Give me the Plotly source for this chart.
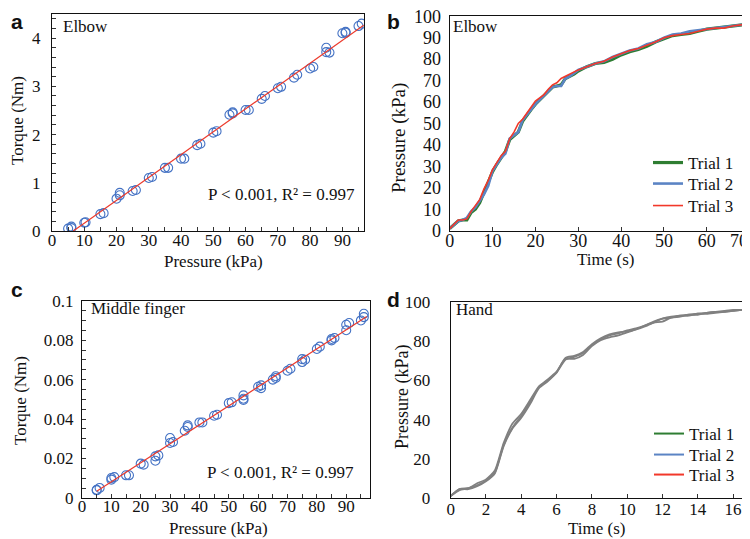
import numpy as np
import plotly.graph_objects as go

W, H = 750, 539

# ---------------- data ----------------
# Panel a: Elbow torque vs pressure
a_pressure = [5, 6, 6, 10, 10.4, 15, 16, 20, 21, 21, 25, 26, 30, 31, 35, 36, 40, 41, 45, 46,
              50, 51, 55, 56, 56, 60, 61, 65, 66, 70, 71, 75, 76, 80, 81, 85, 85, 86, 90, 91, 91, 95, 96]
a_torque = [0.05, 0.09, 0.06, 0.17, 0.18, 0.35, 0.37, 0.67, 0.79, 0.74, 0.83, 0.85, 1.10, 1.12, 1.31, 1.31,
            1.50, 1.50, 1.78, 1.81, 2.04, 2.07, 2.41, 2.46, 2.44, 2.51, 2.51, 2.74, 2.80, 2.96, 2.99, 3.18,
            3.24, 3.37, 3.40, 3.80, 3.71, 3.70, 4.10, 4.13, 4.11, 4.25, 4.30]

# Panel c: Middle finger torque vs pressure
c_pressure = [5, 6, 5, 10, 11, 10, 15, 16, 20, 21, 25, 25, 26, 30, 30, 31, 35, 36, 36, 40, 41, 45, 46,
              50, 51, 55, 55, 55, 60, 61, 61, 65, 66, 66, 70, 71, 75, 75, 76, 80, 81, 85, 85, 86,
              90, 90, 91, 95, 96, 96]
c_torque = [0.0042, 0.0051, 0.0039, 0.0101, 0.0106, 0.0093, 0.0115, 0.0115, 0.0174, 0.0169, 0.0189,
            0.0211, 0.0216, 0.0304, 0.0279, 0.0284, 0.0341, 0.0368, 0.0360, 0.0383, 0.0383, 0.0417,
            0.0422, 0.0481, 0.0485, 0.0520, 0.0503, 0.0497, 0.0564, 0.0571, 0.0557, 0.0600, 0.0617,
            0.0608, 0.0645, 0.0655, 0.0704, 0.0689, 0.0701, 0.0755, 0.0767, 0.0806, 0.0799, 0.0811,
            0.0878, 0.0850, 0.0887, 0.0900, 0.0934, 0.0917]

# Panel b: Elbow pressure vs time (3 trials)
b_time = list(range(0, 31)) + list(range(32, 71, 2))
b_trial1 = [1, 3, 4.5, 5, 5, 8.5, 10, 13, 18, 22, 27.5, 31, 34, 37, 42.5, 44.5, 46, 51, 54, 56.5,
            59, 61, 63, 65, 67, 67.5, 68, 71, 72, 73, 74.5,
            76.5, 78, 78.5, 80, 82, 83.5, 84.5, 86, 88, 89.5, 91, 91.5, 92, 93, 94, 94.5, 95, 95.5, 96, 96.5]
b_trial2 = [1, 3, 4.5, 5, 6, 9, 11, 14, 17, 21, 28, 31, 34, 36, 43, 44.5, 46, 51.5, 54, 57,
            59, 61, 63, 65, 67, 67.5, 67.5, 71, 72, 73.5, 75,
            76.5, 78, 79, 81, 82.5, 84, 85, 87, 88, 90, 91.5, 92, 93, 93.5, 94, 94.5, 95, 95.5, 96, 96.5]
b_trial3 = [1, 3, 5, 5, 5.5, 9, 11.5, 14.5, 19.5, 23.5, 28.5, 31.5, 35, 37, 43, 46, 50, 52, 55, 57.5,
            60.5, 62, 63.5, 66, 68, 69, 71, 72, 73, 74, 75,
            76.5, 78, 79, 81, 82.5, 84, 85, 86.5, 88, 90, 91, 91.5, 92, 93, 94, 94.5, 94.5, 95.5, 96, 97]
b_time_ticks = [0, 10, 20, 30, 40, 50, 60, 70]

# Panel d: Hand pressure vs time (3 trials)
d_time = [0, 0.5, 1, 1.5, 2, 2.5, 3, 3.5, 4, 4.5, 5, 5.5, 6, 6.5, 7, 7.5, 8, 8.5, 9, 9.5,
          10, 10.5, 11, 11.5, 12, 12.5, 13, 13.5, 14, 14.5, 15, 15.5, 16, 16.5, 17]
d_trial1 = [1, 4.5, 5, 6.5, 9, 13, 27, 36, 42, 49, 56.5, 60, 64, 70.5, 72, 74, 78, 81, 83, 84,
            85.5, 86.5, 88, 90, 91.5, 92.5, 93, 93.5, 94, 94.5, 95, 95.5, 96, 96, 97]
d_trial2 = [1, 4, 5, 7.5, 9.5, 14, 28, 38, 43, 50, 57, 60.5, 64.5, 71, 71, 73, 77.5, 80.5, 82, 83,
            84.5, 86, 88, 89.5, 90, 92, 92.5, 93.5, 93.5, 94.5, 95, 95, 95.5, 96, 96.5]
d_trial3 = [1, 4.5, 4.5, 6, 8.5, 12.5, 26.5, 35.5, 41, 48, 56, 59.5, 64, 71.5, 72.5, 74.5, 78.5, 81.5, 83.5, 84.5,
            85, 86, 87.5, 89.5, 91.5, 92, 93, 93, 94, 94, 94.5, 95, 95.5, 96, 97]

trial_names = ["Trial 1", "Trial 2", "Trial 3"]
trial_colors = ["#2e7d32", "#5b84c4", "#f2382a"]

# ---------------- styles ----------------
SERIF = "Liberation Serif, Times New Roman, serif"
SANS = "Liberation Sans, Arial, sans-serif"
BLUE_MK = "#4472c4"
RED_FIT = "#ec3a2c"
GRAY = "#808080"


def px_x(p):
    return p / W


def px_y(p):
    return 1 - p / H


fig = go.Figure()

# panel a
fig.add_trace(go.Scatter(x=a_pressure, y=a_torque, mode="markers", xaxis="x", yaxis="y",
                         marker=dict(symbol="circle-open", size=9, color=BLUE_MK, line=dict(width=1.1)),
                         showlegend=False))
ma, ba = np.polyfit(a_pressure, a_torque, 1)
xa = np.array([-ba / ma, max(a_pressure) + 0.6])
fig.add_trace(go.Scatter(x=xa, y=ma * xa + ba, mode="lines", xaxis="x", yaxis="y",
                         line=dict(color=RED_FIT, width=1.2), showlegend=False))

# panel b (one legend per trial so entries can be spaced like the original)
b_legends = ["legend", "legend2", "legend3"]
for yv, nm, col, lw, lg in zip([b_trial1, b_trial2, b_trial3], trial_names, trial_colors,
                               [3.2, 2.6, 1.6], b_legends):
    fig.add_trace(go.Scatter(x=b_time, y=yv, mode="lines", name=nm, xaxis="x2", yaxis="y2",
                             line=dict(color=col, width=lw), legend=lg))

# panel c
fig.add_trace(go.Scatter(x=c_pressure, y=c_torque, mode="markers", xaxis="x3", yaxis="y3",
                         marker=dict(symbol="circle-open", size=9, color=BLUE_MK, line=dict(width=1.1)),
                         showlegend=False))
mc, bc = np.polyfit(c_pressure, c_torque, 1)
xc = np.array([min(c_pressure), max(c_pressure) + 1])
fig.add_trace(go.Scatter(x=xc, y=mc * xc + bc, mode="lines", xaxis="x3", yaxis="y3",
                         line=dict(color=RED_FIT, width=1.2), showlegend=False))

# panel d (curves drawn gray, legend keys coloured)
for yv in [d_trial1, d_trial2, d_trial3]:
    fig.add_trace(go.Scatter(x=d_time, y=yv, mode="lines", xaxis="x4", yaxis="y4",
                             line=dict(color=GRAY, width=1.8, shape="spline", smoothing=0.6),
                             showlegend=False))
d_legends = ["legend4", "legend5", "legend6"]
for nm, col, lg in zip(trial_names, trial_colors, d_legends):
    fig.add_trace(go.Scatter(x=[None], y=[None], mode="lines", name=nm, xaxis="x4", yaxis="y4",
                             line=dict(color=col, width=2), legend=lg))


def axis(domain, rng, dtick, anchor, minor=None, ticks="inside", standoff=0, fs=17, **kw):
    d = dict(domain=domain, range=rng, dtick=dtick, anchor=anchor, showline=True, linecolor="#111",
             linewidth=1.3, mirror=True, showgrid=False, zeroline=False, ticks=ticks, ticklen=4,
             tickcolor="#333", tickwidth=1, tickfont=dict(family=SERIF, size=fs, color="#111"),
             ticklabelstandoff=standoff, ticklabeloverflow="allow", automargin=False, fixedrange=True)
    if minor is not None:
        d["minor"] = dict(dtick=minor, ticks="inside", ticklen=4, tickcolor="#333", showgrid=False)
    d.update(kw)
    return d


def legend_at(x, y):
    return dict(x=px_x(x), y=px_y(y), xanchor="left", yanchor="middle", bgcolor="rgba(0,0,0,0)",
                font=dict(family=SERIF, size=17, color="#111"), itemwidth=30)


# last label of panel b's time axis sits against the frame in the original; it is drawn below
b_tick_text = [str(t) for t in b_time_ticks[:-1]] + [""]

layout = dict(
    template="none",
    width=W, height=H, margin=dict(l=0, r=0, t=0, b=0),
    paper_bgcolor="white", plot_bgcolor="white",
    font=dict(family=SERIF, size=17, color="#111"),
    xaxis=axis([px_x(44), px_x(356)], [0, 96.7], 10, "y", minor=5, standoff=-7),
    yaxis=axis([px_y(223), px_y(6)], [0, 4.5], 1, "x", minor=0.2, standoff=7),
    xaxis2=axis([px_x(441.7), px_x(741.7)], [0, 70], 10, "y2", standoff=-6, fs=18,
                tickmode="array", tickvals=b_time_ticks, ticktext=b_tick_text),
    yaxis2=axis([px_y(222.7), px_y(8.3)], [0, 100], 10, "x2", ticks="", standoff=4, fs=18),
    xaxis3=axis([px_x(74), px_x(361.7)], [0, 98], 10, "y3", minor=5, standoff=-8),
    yaxis3=axis([px_y(490), px_y(292.7)], [0, 0.1], 0.02, "x3", minor=0.005, standoff=4),
    xaxis4=axis([px_x(442.7), px_x(742.7)], [0, 17], 2, "y4", standoff=-5),
    yaxis4=axis([px_y(490), px_y(294)], [0, 100], 20, "x4", ticks="", standoff=16),
    legend=legend_at(640, 155),
    legend2=legend_at(640, 176),
    legend3=legend_at(640, 198),
    legend4=legend_at(641, 426),
    legend5=legend_at(641, 447),
    legend6=legend_at(641, 467),
    showlegend=True,
)
fig.update_layout(**layout)

ann = []
DY = 7  # annotation boxes render their glyphs ~7px below the box centre


def add_text(text, x, y, xanchor="center", yanchor="middle", size=17, angle=0, family=SERIF, bold=False):
    ann.append(dict(text=("<b>%s</b>" % text) if bold else text, x=px_x(x), y=px_y(y), xref="paper",
                    yref="paper", xanchor=xanchor, yanchor=yanchor, showarrow=False, textangle=angle,
                    font=dict(family=family, size=size, color="#111")))


# axis titles
add_text("Torque (Nm)", 9, 113, angle=-90)
add_text("Pressure (kPa)", 205, 260 - DY)
add_text("Pressure (kPa)", 391, 130, angle=-90, size=19)
add_text("Time (s)", 597, 259 - DY)
add_text("Torque (Nm)", 12, 393, angle=-90)
add_text("Pressure (kPa)", 210, 527 - DY)
add_text("Pressure (kPa)", 394, 389, angle=-90, size=18)
add_text("Time (s)", 588, 527 - DY)

# last time label of panel b (pushed inside the frame, as in the original)
add_text(str(b_time_ticks[-1]), 731, 240 - DY, size=18)

# in-panel labels
add_text("Elbow", 53, 26 - DY, xanchor="left")
add_text("Elbow", 443, 26 - DY, xanchor="left")
add_text("Middle finger", 81, 307 - DY, xanchor="left")
add_text("Hand", 446, 308 - DY, xanchor="left")
add_text("P < 0.001, R² = 0.997", 349, 193 - DY, xanchor="right")
add_text("P < 0.001, R² = 0.997", 348, 471 - DY, xanchor="right")

# panel letters
add_text("a", 9, 0, yanchor="top", size=21, family=SANS, bold=True)
add_text("b", 385, 0, yanchor="top", size=21, family=SANS, bold=True)
add_text("c", 9, 268, yanchor="top", size=21, family=SANS, bold=True)
add_text("d", 385, 278, yanchor="top", size=21, family=SANS, bold=True)

fig.update_layout(annotations=ann)
fig.write_html("out.html")
